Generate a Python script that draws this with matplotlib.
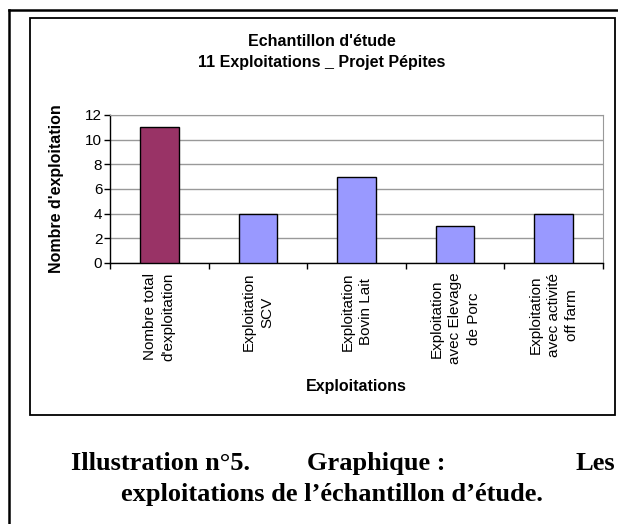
import matplotlib.pyplot as plt
from matplotlib.patches import Rectangle
from matplotlib.lines import Line2D

# data
categories = ["Nombre total\nd'exploitation", "Exploitation\nSCV", "Exploitation\nBovin Lait",
              "Exploitation\navec Elevage\nde Porc", "Exploitation\navec activité\noff farm"]
values = [11, 4, 7, 3, 4]
bar_colors = ["#993366", "#9999FF", "#9999FF", "#9999FF", "#9999FF"]
y_ticks = [0, 2, 4, 6, 8, 10, 12]

W, H = 618, 524
fig = plt.figure(figsize=(W / 100, H / 100), dpi=100)
plt.rcParams['font.family'] = ['Liberation Sans', 'DejaVu Sans']

def fx(x):
    return x / W

def fy(y):
    return 1 - y / H

# page borders
fig.add_artist(Line2D([fx(9), fx(9)], [fy(10), fy(524)], color="black", lw=1.8))
fig.add_artist(Line2D([fx(9), fx(618)], [fy(10), fy(10)], color="black", lw=1.8))
# chart frame
fig.add_artist(Rectangle((fx(30), fy(415)), fx(615) - fx(30), fy(18) - fy(415),
                         fill=False, edgecolor="black", lw=1.3, transform=fig.transFigure))

ax = fig.add_axes([fx(110), fy(263), fx(603) - fx(110), fy(115) - fy(263)])
x = range(len(values))
ax.bar(x, values, width=0.39, color=bar_colors, edgecolor="black", linewidth=1, zorder=3)

ax.set_xlim(-0.5, len(values) - 0.5)
ax.set_ylim(0, 12)
ax.set_yticks(y_ticks)
ax.tick_params(axis="y", labelsize=11, length=4, width=1, pad=1.5)
ax.set_xticks(list(x))
ax.set_xticklabels(categories, rotation=90, fontsize=11, linespacing=1.4,
                   ha="center", va="top", multialignment="center")
ax.tick_params(axis="x", length=0, pad=7)
ax.set_xticks([i - 0.5 for i in range(len(values) + 1)], minor=True)
ax.tick_params(axis="x", which="minor", length=4, width=1, direction="out")

ax.grid(axis="y", color="#999999", lw=1, zorder=0)
ax.spines["top"].set_color("#999999")
ax.spines["right"].set_color("#999999")
ax.spines["left"].set_linewidth(1)
ax.spines["bottom"].set_linewidth(1)

# titles
fig.text(fx(322), fy(42), "Echantillon d'étude", ha="center", va="center",
         fontsize=11.5, fontweight="bold")
fig.text(fx(322), fy(62), "11 Exploitations _ Projet Pépites", ha="center", va="center",
         fontsize=11.5, fontweight="bold")
fig.text(fx(57), fy(189), "Nombre d'exploitation", ha="center", va="center",
         rotation=90, fontsize=11.5, fontweight="bold")
fig.text(fx(356), fy(386), "Exploitations", ha="center", va="center",
         fontsize=11.5, fontweight="bold")

# caption
cap = dict(fontsize=19, fontweight="bold", family=["Liberation Serif", "DejaVu Serif"])
fig.text(fx(71), fy(470), "Illustration n°5.", ha="left", va="baseline", **cap)
fig.text(fx(307), fy(470), "Graphique :", ha="left", va="baseline", **cap)
fig.text(fx(615), fy(470), "Les", ha="right", va="baseline", **cap)
fig.text(fx(332), fy(501), "exploitations de l\u2019échantillon d\u2019étude.", ha="center",
         va="baseline", **cap)

fig.savefig("out.png", dpi=100)
